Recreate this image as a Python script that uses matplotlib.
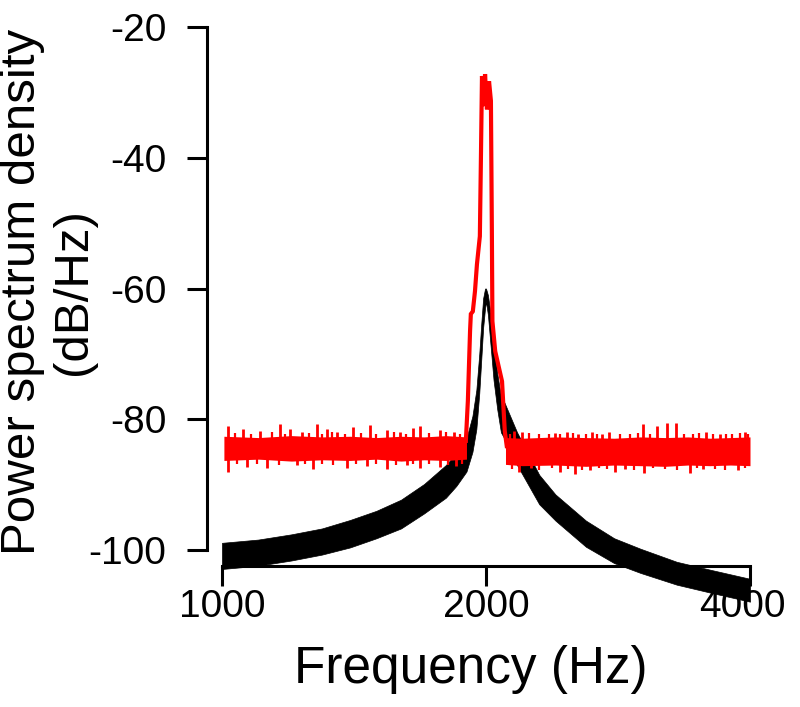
import matplotlib
matplotlib.use("Agg")
import matplotlib.pyplot as plt
import matplotlib.ticker as ticker
from matplotlib.transforms import ScaledTranslation

plt.rcParams['font.family'] = ['Liberation Sans', 'DejaVu Sans']

# black trace: upper / lower edge of the thick noisy band
black_freq = [1000, 1100, 1200, 1300, 1400, 1500, 1600, 1700, 1800, 1850, 1900,
              1930, 1950, 1965, 1975, 1985, 1995, 2000, 2010, 2025, 2040, 2060,
              2080, 2100, 2170, 2300, 2400, 2600, 2800, 3000, 3300, 3600, 4000]
black_upper = [-98.9, -98.4, -97.6, -96.7, -95.4, -94.0, -92.3, -89.9, -87.0, -85.2, -82.9,
               -79.5, -75.5, -70.0, -65.5, -61.5, -60.0, -60.0, -61.0, -64.0, -68.0, -73.0,
               -76.5, -77.5, -82.0, -88.5, -91.5, -95.5, -98.2, -99.8, -101.8, -103.0, -104.4]
black_lower = [-102.9, -102.4, -101.6, -100.7, -99.6, -98.2, -96.7, -94.4, -92.0, -90.2, -88.0,
               -85.0, -81.5, -76.0, -71.0, -66.0, -63.0, -62.0, -64.0, -69.0, -74.0, -78.5,
               -82.0, -83.0, -87.0, -93.0, -95.5, -99.5, -102.0, -103.5, -105.3, -106.5, -107.9]

# red trace: noise floor band left and right of the peak
red_left_freq = [1005, 1100, 1200, 1300, 1400, 1500, 1600, 1700, 1800, 1900]
red_left_upper = [-82.6, -82.8, -82.5, -82.7, -82.6, -82.8, -82.6, -82.7, -82.5, -82.7]
red_left_lower = [-86.3, -86.1, -86.4, -86.2, -86.3, -86.1, -86.4, -86.2, -86.3, -86.1]
red_right_freq = [2105, 2200, 2400, 2600, 2800, 3000, 3200, 3400, 3600, 3800, 4000]
red_right_upper = [-82.8, -82.9, -82.7, -82.8, -82.9, -82.7, -82.8, -82.7, -82.9, -82.8, -82.7]
red_right_lower = [-86.9, -87.1, -87.0, -87.2, -87.0, -87.1, -87.2, -87.0, -87.1, -87.0, -87.1]

# red peak line around 2000 Hz
peak_freq = [1897, 1907, 1918, 1922, 1932, 1943, 1953, 1968, 1974, 1979, 1990, 1995,
             2005, 2016, 2026, 2031, 2034, 2049, 2086, 2101, 2112]
peak_db = [-83.3, -77.2, -66.5, -63.9, -63.5, -60.4, -56.3, -52.0, -39.0, -27.5, -32.1, -27.2,
           -32.6, -28.3, -31.3, -51.2, -65.0, -69.6, -74.2, -81.8, -84.1]

# noise spikes on the red floor (large ones)
spike_up_freq = [1016, 1057, 1105, 1164, 1196, 1234, 1283, 1317, 1353, 1411, 1475, 1542,
                 1596, 1652, 1682, 1773, 1840, 2150, 2200, 2398, 2475, 2547, 2644, 2715,
                 2759, 3021, 3132, 3213, 3296, 3568, 3697, 3946]
spike_up_db = [-81.0, -81.5, -81.8, -80.8, -81.5, -81.9, -80.8, -81.5, -81.9, -81.2, -80.9, -81.6,
               -81.9, -81.4, -81.0, -81.7, -82.0, -81.8, -82.0, -82.1, -82.0, -82.3, -82.0, -82.2,
               -82.0, -80.7, -81.0, -80.6, -80.6, -82.0, -82.2, -82.0]
spike_dn_freq = [1016, 1068, 1126, 1218, 1270, 1388, 1463, 1542, 1624, 1682, 1773, 1850,
                 2180, 2250, 2432, 2526, 2629, 2806, 2880, 3029, 3418, 3537, 3875]
spike_dn_db = [-88.0, -87.3, -87.5, -87.0, -87.6, -87.4, -87.2, -87.6, -87.0, -87.5, -87.3, -87.2,
               -88.0, -87.5, -88.0, -88.3, -87.8, -88.0, -87.6, -88.2, -88.2, -87.6, -87.8]
# small jitter along the band edges
jit_up_freq = [1035, 1080, 1140, 1180, 1255, 1300, 1335, 1380, 1440, 1500, 1570, 1620, 1720,
               1800, 1870, 2130, 2240, 2300, 2360, 2430, 2510, 2600, 2680, 2840, 2920, 2980,
               3080, 3360, 3440, 3500, 3630, 3760, 3820, 3900, 3980]
jit_up_db = [-82.1, -82.2, -82.0, -82.3, -82.1, -82.2, -82.0, -82.2, -82.1, -82.3, -82.0, -82.2,
             -82.1, -82.0, -82.2, -82.3, -82.1, -82.2, -82.3, -82.2, -82.1, -82.3, -82.2, -82.3,
             -82.2, -82.1, -82.3, -82.2, -82.3, -82.1, -82.2, -82.3, -82.2, -82.1, -82.3]
jit_dn_freq = [1040, 1095, 1160, 1245, 1300, 1340, 1420, 1500, 1580, 1650, 1720, 1810, 1880,
               2140, 2300, 2380, 2480, 2570, 2690, 2750, 2950, 3100, 3200, 3300, 3480, 3650,
               3750, 3950]
jit_dn_db = [-86.9, -86.8, -87.0, -86.8, -86.9, -87.0, -86.8, -86.9, -87.0, -86.8, -86.9, -87.0,
             -86.8, -87.6, -87.7, -87.5, -87.6, -87.7, -87.5, -87.6, -87.7, -87.5, -87.6, -87.7,
             -87.5, -87.6, -87.7, -87.5]

xticks = [1000, 2000, 4000]
xtick_labels = ['1000', '2000', '4000']
yticks = [-100, -80, -60, -40, -20]
ytick_labels = ['-100', '-80', '-60', '-40', '-20']

W, H = 800, 707
fig = plt.figure(figsize=(W / 100, H / 100), dpi=100)
ax = fig.add_axes([222 / W, 1 - 615.4 / H, 528 / W, 588.4 / H])

red = '#ff0000'

ax.fill_between(black_freq, black_lower, black_upper, color='black', lw=0.5, clip_on=False)

ax.fill_between(red_left_freq, red_left_lower, red_left_upper, color=red, lw=0)
ax.fill_between(red_right_freq, red_right_lower, red_right_upper, color=red, lw=0)
ax.vlines(spike_up_freq, -83.5, spike_up_db, color=red, lw=2.0)
ax.vlines(spike_dn_freq, -85.5, spike_dn_db, color=red, lw=2.0)
ax.vlines(jit_up_freq, -83.5, jit_up_db, color=red, lw=1.6)
ax.vlines(jit_dn_freq, -85.5, jit_dn_db, color=red, lw=1.6)
ax.plot(peak_freq, peak_db, color=red, lw=3.0, solid_joinstyle='miter')

ax.set_xscale('log')
ax.set_xlim(1000, 4000)
ax.set_ylim(-110, -20)

ax.xaxis.set_major_locator(ticker.FixedLocator(xticks))
ax.xaxis.set_major_formatter(ticker.FixedFormatter(xtick_labels))
ax.xaxis.set_minor_locator(ticker.NullLocator())
ax.yaxis.set_major_locator(ticker.FixedLocator(yticks))
ax.yaxis.set_major_formatter(ticker.FixedFormatter(ytick_labels))

for side in ['top', 'right']:
    ax.spines[side].set_visible(False)
ax.spines['left'].set_position(('outward', 10.8))
ax.spines['left'].set_bounds(-100, -20)
ax.spines['bottom'].set_position(('data', -102.5))
ax.spines['bottom'].set_bounds(1000, 4000)
for side in ['left', 'bottom']:
    ax.spines[side].set_linewidth(2.2)

ax.tick_params(axis='both', direction='out', length=14.4, width=2.2, labelsize=28)
ax.tick_params(axis='y', pad=15)
ax.tick_params(axis='x', pad=2)

# last x label sits a little left of its tick in the reference
lab = ax.get_xticklabels()[-1]
lab.set_transform(lab.get_transform() + ScaledTranslation(-8 / 100, 0, fig.dpi_scale_trans))

fig.text(48 / W, 1 - 292 / H, 'Power spectrum density\n(dB/Hz)', rotation=90,
         ha='center', va='center', multialignment='center', fontsize=35.5, linespacing=1.15)
fig.text(471 / W, 1 - 670 / H, 'Frequency (Hz)', ha='center', va='center', fontsize=37)

fig.savefig('out.png', dpi=100)
